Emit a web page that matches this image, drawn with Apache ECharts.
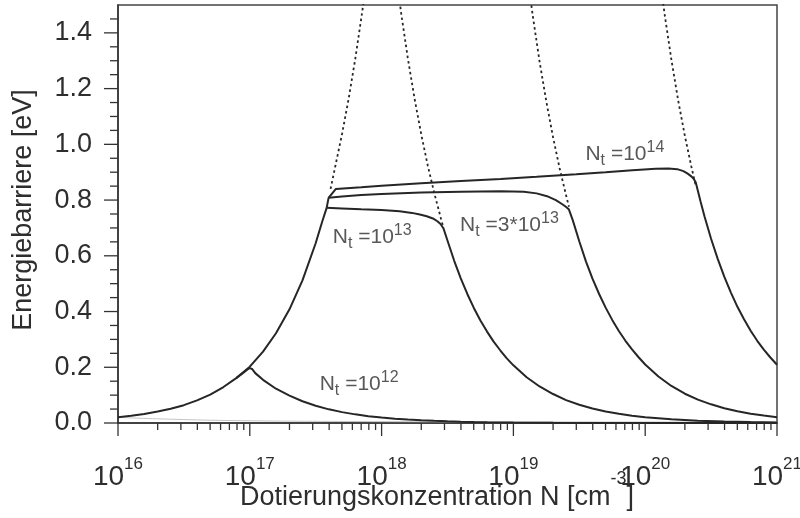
<!DOCTYPE html>
<html><head><meta charset="utf-8">
<script src="https://cdn.jsdelivr.net/npm/echarts@6/dist/echarts.min.js"></script>
<style>html,body{margin:0;padding:0;background:#fff}#c{width:800px;height:518px}</style>
</head><body><div id="c"></div>
<script>
const FONT = '"Liberation Sans", Arial, Helvetica, sans-serif';

// common rising branch (all N_t)
const riseN = [1e16,1.26e16,1.58e16,2e16,2.51e16,3.16e16,3.98e16,5.01e16,6.31e16,7.94e16,1e17,1.26e17,1.58e17,2e17,2.51e17,3.16e17,3.55e17,3.83e17];
const riseE = [0.021,0.026,0.032,0.041,0.051,0.064,0.081,0.102,0.129,0.162,0.202,0.256,0.322,0.408,0.512,0.645,0.724,0.772];

// N_t = 1e12
const nt12N = [7.94e16,9e16,9.6e16,1e17,1.04e17,1.1e17,1.26e17,1.58e17,2e17,2.51e17,3.16e17,3.98e17,5.01e17,6.31e17,7.94e17,1e18,1.26e18,1.58e18,2e18,2.51e18,3.16e18,3.98e18,5.01e18,6.31e18,1e19,2e19,5e19,1e20,1e21];
const nt12E = [0.162,0.181,0.192,0.197,0.194,0.179,0.155,0.123,0.098,0.078,0.062,0.049,0.039,0.031,0.0245,0.0195,0.0155,0.0123,0.0098,0.0078,0.0062,0.0049,0.0039,0.0031,0.002,0.001,0.0004,0.0002,0.00002];

// N_t = 1e13
const nt13N = [3.83e17,5e17,7e17,1e18,1.37e18,1.7e18,1.95e18,2.2e18,2.45e18,2.65e18,2.8e18,2.95e18,3.16e18,3.55e18,3.98e18,4.47e18,5.01e18,5.62e18,6.31e18,7.08e18,7.94e18,8.91e18,1e19,1.26e19,1.58e19,2e19,2.51e19,3.16e19,3.98e19,5.01e19,6.31e19,7.94e19,1e20,1.58e20,2.51e20,3.98e20,6.31e20,1e21];
const nt13E = [0.772,0.770,0.767,0.764,0.760,0.754,0.748,0.742,0.734,0.724,0.714,0.698,0.655,0.583,0.520,0.463,0.413,0.368,0.328,0.292,0.261,0.232,0.207,0.164,0.131,0.104,0.082,0.0655,0.052,0.041,0.033,0.026,0.0207,0.0131,0.0082,0.0052,0.0033,0.0021];

// N_t = 3e13
const nt3N = [3.83e17,3.96e17,5e17,7e17,1e18,2e18,4e18,8e18,1.2e19,1.5e19,1.8e19,2.1e19,2.35e19,2.5e19,2.64e19,2.82e19,3.16e19,3.55e19,3.98e19,4.47e19,5.01e19,5.62e19,6.31e19,7.08e19,7.94e19,8.91e19,1e20,1.26e20,1.58e20,2e20,2.51e20,3.16e20,3.98e20,5.01e20,6.31e20,7.94e20,1e21];
const nt3E = [0.772,0.808,0.813,0.818,0.822,0.827,0.830,0.832,0.830,0.824,0.814,0.800,0.785,0.776,0.766,0.728,0.652,0.580,0.518,0.463,0.414,0.370,0.330,0.295,0.264,0.236,0.210,0.167,0.133,0.105,0.084,0.067,0.053,0.042,0.0335,0.0266,0.021];

// N_t = 1e14
const nt14N = [3.96e17,4.5e17,7e17,1e18,2e18,4e18,8e18,1.5e19,3e19,5e19,8e19,1.2e20,1.5e20,1.75e20,1.95e20,2.1e20,2.25e20,2.35e20,2.42e20,2.63e20,2.82e20,3.16e20,3.55e20,3.98e20,4.47e20,5.01e20,5.62e20,6.31e20,7.08e20,7.94e20,8.91e20,1e21];
const nt14E = [0.808,0.840,0.846,0.851,0.860,0.868,0.876,0.884,0.893,0.900,0.907,0.912,0.913,0.911,0.904,0.895,0.884,0.874,0.863,0.795,0.741,0.661,0.589,0.525,0.468,0.417,0.372,0.331,0.295,0.263,0.235,0.209];

// dotted continuations
const dotRiseN = [4.1e17,4.47e17,5.01e17,5.62e17,6.31e17,7.08e17,7.6e17];
const dotRiseE = [0.840,0.925,1.037,1.163,1.306,1.466,1.573];
const dot13N = [1.3e18,1.41e18,1.58e18,1.78e18,2e18,2.24e18,2.51e18,2.82e18,2.95e18];
const dot13E = [1.592,1.468,1.310,1.163,1.035,0.924,0.825,0.734,0.700];
const dot3N = [1.3e19,1.41e19,1.58e19,1.78e19,2e19,2.24e19,2.51e19,2.64e19];
const dot3E = [1.577,1.454,1.297,1.152,1.025,0.915,0.817,0.776];
const dot14N = [1.3e20,1.41e20,1.58e20,1.78e20,2e20,2.24e20,2.42e20];
const dot14E = [1.585,1.461,1.304,1.157,1.030,0.920,0.851];

// faint grey line near zero
const faintN = [1e16,2e16,5e16,1e17,3e17,1e18,1e19,1e21];
const faintE = [0.020,0.015,0.010,0.008,0.006,0.005,0.004,0.003];

// annotations
const annPos = [[3.39e17,0.138],[4.26e17,0.667],[3.94e18,0.711],[3.52e19,0.966]];
const annPre = [' =10',' =10',' =3*10',' =10'];
const annExp = ['12','13','13','14'];

// ticks and labels
const xMajorTicks = [1e16,1e17,1e18,1e19,1e20,1e21];
const xTickExp = ['16','17','18','19','20','21'];
const xMinorFactors = [2,3,4,5,6,7,8,9];
const yMajorTicks = [0,0.2,0.4,0.6,0.8,1.0,1.2,1.4];
const yTickLabels = ['0.0','0.2','0.4','0.6','0.8','1.0','1.2','1.4'];
const yMinorTicks = [0.05,0.1,0.15,0.25,0.3,0.35,0.45,0.5,0.55,0.65,0.7,0.75,0.85,0.9,0.95,1.05,1.1,1.15,1.25,1.3,1.35,1.45];

function pairs(n, e) { return n.map((v, i) => [v, e[i]]); }

const tickData = [];
xMajorTicks.forEach(v => tickData.push([v, 0, 13, 0]));
xMajorTicks.slice(0, -1).forEach(d => xMinorFactors.forEach(f => tickData.push([d * f, 0, 7, 0])));
yMajorTicks.forEach(v => tickData.push([1e16, v, 14, 1]));
yMinorTicks.forEach(v => tickData.push([1e16, v, 8, 1]));

const LINE = '#262626';
const TXT = '#2e2e2e';
function solid(name, data) {
  return { name, type: 'line', data, showSymbol: false, symbol: 'none', smooth: false,
    lineStyle: { color: LINE, width: 2 }, z: 3, silent: true };
}
function dotted(name, data) {
  return { name, type: 'line', data, showSymbol: false, symbol: 'none', smooth: false,
    lineStyle: { color: LINE, width: 1.8, type: [2.5, 3] }, z: 2, silent: true };
}

const chart = echarts.init(document.getElementById('c'), null, { renderer: 'canvas' });
chart.setOption({
  animation: false,
  backgroundColor: '#fff',
  grid: { left: 118, right: 23, top: 5, bottom: 95, containLabel: false, outerBoundsMode: 'none',
    show: true, borderColor: '#444', borderWidth: 1.5 },
  xAxis: {
    type: 'log', logBase: 10, min: 1e16, max: 1e21,
    axisLine: { lineStyle: { color: '#333', width: 1.5 } },
    axisTick: { show: false }, splitLine: { show: false },
    axisLabel: {
      margin: 33, color: TXT, fontFamily: FONT,
      formatter: v => {
        const i = xMajorTicks.findIndex(t => Math.abs(Math.log10(t) - Math.log10(v)) < 1e-6);
        return i < 0 ? '' : '{b|10}{s|' + xTickExp[i] + '}';
      },
      rich: {
        b: { fontSize: 28, lineHeight: 42, verticalAlign: 'middle', fontFamily: FONT, color: TXT },
        s: { fontSize: 17, lineHeight: 17, verticalAlign: 'top', fontFamily: FONT, color: TXT }
      }
    },
    name: '{a|Dotierungskonzentration N [cm}{s|-3}{a|]}',
    nameLocation: 'middle', nameGap: 47, nameMoveOverlap: false,
    nameTextStyle: {
      padding: [0, 21, 0, 0],
      rich: {
        a: { fontSize: 27, lineHeight: 56, verticalAlign: 'middle', fontFamily: FONT, color: TXT },
        s: { fontSize: 18, lineHeight: 18, verticalAlign: 'top', fontFamily: FONT, color: TXT }
      }
    }
  },
  yAxis: {
    type: 'value', min: 0, max: 1.5, interval: 0.2,
    axisLine: { show: true, lineStyle: { color: '#333', width: 1.5 } },
    axisTick: { show: false }, splitLine: { show: false },
    axisLabel: {
      margin: 26, fontSize: 27, color: TXT, fontFamily: FONT,
      formatter: v => {
        const i = yMajorTicks.findIndex(t => Math.abs(t - v) < 1e-6);
        return i < 0 ? '' : yTickLabels[i];
      }
    },
    name: 'Energiebarriere [eV]', nameLocation: 'middle', nameGap: 81, nameMoveOverlap: false,
    nameTextStyle: { fontSize: 27, color: TXT, fontFamily: FONT, padding: [0, 0, 0, 8] }
  },
  series: [
    { name: 'faint', type: 'line', data: pairs(faintN, faintE), symbol: 'none', smooth: 0.3,
      lineStyle: { color: '#c4c4c4', width: 1 }, z: 1, silent: true },
    solid('rise', pairs(riseN, riseE)),
    solid('Nt=1e12', pairs(nt12N, nt12E)),
    solid('Nt=1e13', pairs(nt13N, nt13E)),
    solid('Nt=3e13', pairs(nt3N, nt3E)),
    solid('Nt=1e14', pairs(nt14N, nt14E)),
    dotted('rise dotted', pairs(dotRiseN, dotRiseE)),
    dotted('1e13 dotted', pairs(dot13N, dot13E)),
    dotted('3e13 dotted', pairs(dot3N, dot3E)),
    dotted('1e14 dotted', pairs(dot14N, dot14E)),
    {
      name: 'labels', type: 'scatter', symbolSize: 0, silent: true, z: 5,
      data: annPos.map((p, i) => ({ value: p, pre: annPre[i], exp: annExp[i] })),
      label: {
        show: true, position: 'right', distance: 0,
        formatter: p => '{n|N}{t|t}{n|' + p.data.pre + '}{p|' + p.data.exp + '}',
        rich: {
          n: { fontSize: 21, lineHeight: 29, verticalAlign: 'middle', fontFamily: FONT, color: TXT },
          t: { fontSize: 16, lineHeight: 16, verticalAlign: 'bottom', fontFamily: FONT, color: TXT },
          p: { fontSize: 16, lineHeight: 16, verticalAlign: 'top', fontFamily: FONT, color: TXT }
        }
      }
    },
    {
      name: 'ticks', type: 'custom', silent: true, z: 6, clip: false,
      data: tickData,
      encode: { x: 0, y: 1 },
      renderItem: (params, api) => {
        const p = api.coord([api.value(0), api.value(1)]);
        const len = api.value(2), dir = api.value(3);
        const shape = dir === 0
          ? { x1: p[0], y1: p[1], x2: p[0], y2: p[1] + len }
          : { x1: p[0] - len, y1: p[1], x2: p[0], y2: p[1] };
        return { type: 'line', shape, style: { stroke: '#333', lineWidth: 1.3 } };
      }
    }
  ]
});
</script></body></html>
